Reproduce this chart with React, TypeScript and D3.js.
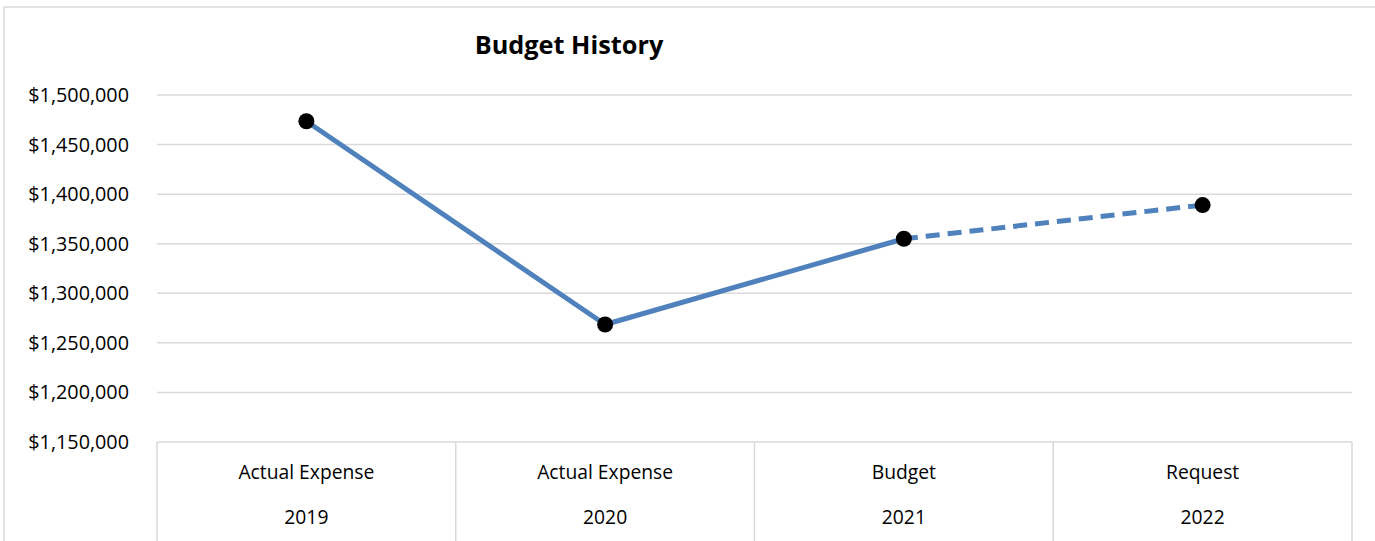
import React from "react";
import * as d3 from "d3";

const categories = ["Actual Expense", "Actual Expense", "Budget", "Request"];
const years = ["2019", "2020", "2021", "2022"];
const values = [1473500, 1268500, 1355000, 1389000];
const yTicks = [1150000, 1200000, 1250000, 1300000, 1350000, 1400000, 1450000, 1500000];

const W = 1375;
const H = 541;
const FONT = "'Open Sans', sans-serif";

export default function App() {
  const left = 157;
  const right = 1352;
  const top = 95;
  const bottom = 442;
  const x = d3.scaleBand<number>().domain(d3.range(categories.length)).range([left, right]).paddingInner(0).paddingOuter(0);
  const y = d3.scaleLinear().domain([1150000, 1500000]).range([bottom, top]);
  const fmt = (v: number) => "$" + d3.format(",")(v);
  const cx = (i: number) => (x(i) as number) + x.bandwidth() / 2;
  const line = d3.line<number>().x((_, i) => cx(i)).y((v) => y(v));
  const solid = line(values.slice(0, 3)) as string;
  const dashedPts: [number, number][] = [[cx(2), y(values[2])], [cx(3), y(values[3])]];
  const dashed = d3.line()(dashedPts) as string;
  const grid = "#d9d9d9";

  return (
    <svg width={W} height={H} style={{ position: "absolute", left: 0, top: 0, background: "#fff" }}>
      <rect x={4} y={7} width={W + 10} height={H + 10} fill="#fff" stroke={grid} strokeWidth={1.5} />
      <text x={569} y={45} dy="0.35em" textAnchor="middle" fontFamily={FONT} fontWeight="bold" fontSize={25.3} fill="#000">
        Budget History
      </text>
      {yTicks.map((t) => (
        <g key={t}>
          {t !== 1150000 && (
            <line x1={left} x2={right} y1={y(t)} y2={y(t)} stroke={grid} strokeWidth={1.5} />
          )}
          <text x={129} y={y(t)} dy="0.35em" textAnchor="end" fontFamily={FONT} fontSize={19.8} fill="#000">
            {fmt(t)}
          </text>
        </g>
      ))}
      <line x1={left} x2={right} y1={bottom} y2={bottom} stroke={grid} strokeWidth={1.5} />
      {d3.range(categories.length + 1).map((i) => {
        const xx = i < categories.length ? (x(i) as number) : right;
        return <line key={i} x1={xx} x2={xx} y1={bottom} y2={H} stroke={grid} strokeWidth={1.5} />;
      })}
      {categories.map((c, i) => (
        <g key={i}>
          <text x={cx(i)} y={472} dy="0.35em" textAnchor="middle" fontFamily={FONT} fontSize={19.3} fill="#000">
            {c}
          </text>
          <text x={cx(i)} y={517} dy="0.35em" textAnchor="middle" fontFamily={FONT} fontSize={19.3} fill="#000">
            {years[i]}
          </text>
        </g>
      ))}
      <path d={solid} fill="none" stroke="#4f81bd" strokeWidth={5} strokeLinejoin="round" />
      <path d={dashed} fill="none" stroke="#4f81bd" strokeWidth={5} strokeDasharray="14 8" />
      {values.map((v, i) => (
        <circle key={i} cx={cx(i)} cy={y(v)} r={8} fill="#000" />
      ))}
    </svg>
  );
}
